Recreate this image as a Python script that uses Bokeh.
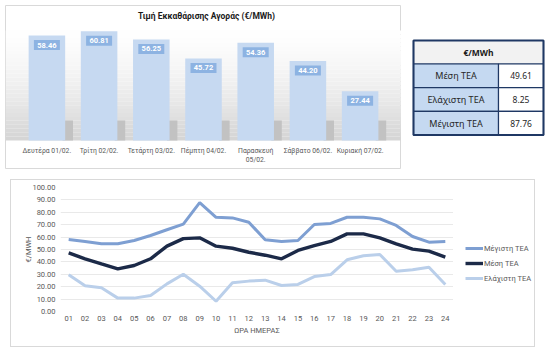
from bokeh.plotting import figure
from bokeh.layouts import column, row, Spacer
from bokeh.models import (ColumnDataSource, FactorRange, Range1d, BoxAnnotation, Legend,
                          LegendItem, PrintfTickFormatter, FixedTicker)
from bokeh.transform import dodge
from bokeh.core.properties import value
from bokeh.embed import file_html
from bokeh.resources import INLINE

# ---------------- data ----------------
days = ["Δευτέρα 01/02.", "Τρίτη 02/02.", "Τετάρτη 03/02.", "Πέμπτη 04/02.",
        "Παρασκευή 05/02.", "Σάββατο 06/02.", "Κυριακή 07/02."]
day_labels = ["Δευτέρα 01/02.", "Τρίτη 02/02.", "Τετάρτη 03/02.", "Πέμπτη 04/02.",
              "Παρασκευή\n05/02.", "Σάββατο 06/02.", "Κυριακή 07/02."]
daily_price = [58.46, 60.81, 56.25, 45.72, 54.36, 44.20, 27.44]
bar_title = "Τιμή Εκκαθάρισης Αγοράς (€/MWh)"

hours = ["01", "02", "03", "04", "05", "06", "07", "08", "09", "10", "11", "12",
         "13", "14", "15", "16", "17", "18", "19", "20", "21", "22", "23", "24"]
max_tea = [58.1, 56.5, 54.6, 54.6, 57.3, 61.3, 65.9, 70.5, 87.76, 76.0, 75.5, 72.0,
           57.8, 56.5, 57.3, 70.2, 71.0, 76.0, 76.0, 74.7, 69.4, 60.5, 55.9, 56.5]
mean_tea = [47.3, 42.5, 38.4, 34.4, 37.1, 42.5, 52.7, 58.8, 59.4, 52.7, 51.0, 47.8,
            45.4, 42.5, 49.2, 53.2, 56.5, 62.6, 62.6, 59.4, 54.6, 50.3, 48.7, 43.8]
min_tea = [29.6, 20.7, 19.1, 10.8, 10.8, 12.9, 22.3, 30.0, 20.4, 8.25, 23.1, 24.5,
           25.3, 21.0, 21.8, 28.2, 29.8, 41.7, 44.9, 46.0, 32.5, 33.6, 35.7, 21.8]
y_ticks = [0, 10, 20, 30, 40, 50, 60, 70, 80, 90, 100]
x_title = "ΩΡΑ ΗΜΕΡΑΣ"
y_title = "€/MWH"
series_names = ["Μέγιστη ΤΕΑ", "Μέση ΤΕΑ", "Ελάχιστη ΤΕΑ"]

table_header = "€/MWh"
stat_names = ["Μέση ΤΕΑ", "Ελάχιστη ΤΕΑ", "Μέγιστη ΤΕΑ"]
stat_values = [49.61, 8.25, 87.76]

FONT = "Roboto"
GRAY_TXT = "#595959"
C_MAX, C_MEAN, C_MIN = "#7E9FD2", "#1C2A48", "#BACFEA"

# ---------------- bar chart panel ----------------
BW, BH = 396, 164
SCALE = 1.796          # px per €/MWh
BASE_PX = 135          # baseline, px from top of panel
y_lo = -(BH - BASE_PX) / SCALE
y_hi = BASE_PX / SCALE

bp = figure(width=BW, height=BH, x_range=FactorRange(*days, range_padding=0.293,
            range_padding_units="absolute"), y_range=Range1d(y_lo, y_hi),
            x_axis_location=None, y_axis_location=None, output_backend="svg",
            toolbar_location=None, min_border=0)
bp.grid.visible = False
bp.outline_line_color = "#D9D9D9"
bp.background_fill_color = "white"
bp.border_fill_color = "white"

# background gradient (white at top -> grey near the floor)
n_bands = 28
top_px, bot_px = 25, BASE_PX
for i in range(n_bands):
    t0 = top_px + (bot_px - top_px) * i / n_bands
    t1 = top_px + (bot_px - top_px) * (i + 1) / n_bands
    frac = (i + 1) / n_bands
    g = int(255 - 42 * frac ** 1.5)
    bp.add_layout(BoxAnnotation(top=(BASE_PX - t0) / SCALE, bottom=(BASE_PX - t1) / SCALE,
                                fill_color=f"#{g:02x}{g:02x}{g:02x}", fill_alpha=1.0,
                                line_color=None, level="underlay"))

src_b = ColumnDataSource(dict(day=days, lab=day_labels, price=daily_price,
                              txt=[f"{v:.2f}" for v in daily_price],
                              laby=[v - 9.5 / SCALE for v in daily_price],
                              shadow_top=[min(v, 20 / SCALE) for v in daily_price]))

# floor shadows
bp.vbar(x=dodge("day", 0.40, range=bp.x_range), width=0.2, top="shadow_top", bottom=0,
        source=src_b, fill_color="#C2C2C2", line_color=None)
# bars
bp.vbar(x="day", top="price", bottom=0, width=0.7, source=src_b,
        fill_color="#C6D9F1", line_color=None)
# value labels
bp.rect(x="day", y="laby", width=26, height=10, width_units="screen", height_units="screen",
        source=src_b, fill_color="#8DB3E2", line_color=None)
bp.text(x="day", y="laby", text="txt", source=src_b, text_color="white",
        text_font=value(FONT), text_font_style="bold", text_font_size="7.5px",
        text_align="center", text_baseline="middle")
# category labels
bp.text(x="day", y=-6 / SCALE, text="lab", source=src_b, text_color=GRAY_TXT,
        text_font=value(FONT), text_font_size="6.8px", text_align="center",
        text_baseline="top", text_line_height=1.2)
# title
bp.text(x=[days[3]], y=[(BASE_PX - 10) / SCALE], text=[bar_title], x_offset=3,
        text_color="#1A1A1A", text_font=value(FONT), text_font_style="bold",
        text_font_size="8.5px", text_align="center", text_baseline="middle")

# ---------------- table panel ----------------
TW, TH = 145, 164
tp = figure(width=TW, height=TH, x_range=Range1d(0, TW), y_range=Range1d(TH, 0),
            x_axis_location=None, y_axis_location=None, output_backend="svg",
            toolbar_location=None, min_border=0)
tp.grid.visible = False
tp.outline_line_color = None

T_L, T_M, T_R = 8, 93, 138
T_TOP, HEAD_H, ROW_H = 35, 23.5, 23.7
NAVY = "#1F3864"
n_rows = len(stat_names)
row_tops = [T_TOP + HEAD_H + i * ROW_H for i in range(n_rows)]
row_bots = [t + ROW_H for t in row_tops]
row_mid = [t + ROW_H / 2 for t in row_tops]

tp.quad(left=[T_L], right=[T_R], top=[T_TOP], bottom=[T_TOP + HEAD_H],
        fill_color="#F2F2F2", line_color=NAVY, line_width=1.2)
tsrc = ColumnDataSource(dict(top=row_tops, bot=row_bots, mid=row_mid, name=stat_names,
                             val=[f"{v:.2f}" for v in stat_values]))
tp.quad(left=T_L, right=T_M, top="top", bottom="bot", source=tsrc,
        fill_color="#C5D9F1", line_color=NAVY, line_width=1.2)
tp.quad(left=T_M, right=T_R, top="top", bottom="bot", source=tsrc,
        fill_color="white", line_color=NAVY, line_width=1.2)
tp.quad(left=[T_L], right=[T_R], top=[T_TOP], bottom=[row_bots[-1]],
        fill_color=None, line_color=NAVY, line_width=2)
tp.text(x=[(T_L + T_R) / 2], y=[T_TOP + HEAD_H / 2], text=[table_header],
        text_font=value("Noto Sans"), text_font_style="bold", text_font_size="8.5px",
        text_color="#1A1A1A", text_align="center", text_baseline="middle")
tp.text(x=(T_L + T_M) / 2, y="mid", text="name", source=tsrc,
        text_font=value("Noto Sans"), text_font_size="9px", text_color="#262626",
        text_align="center", text_baseline="middle")
tp.text(x=(T_M + T_R) / 2, y="mid", text="val", source=tsrc,
        text_font=value("Noto Sans"), text_font_size="8.5px", text_color="#262626",
        text_align="center", text_baseline="middle")

# ---------------- line chart panel ----------------
LH = 168
lp = figure(width=443, height=LH, x_range=FactorRange(*hours), y_range=Range1d(0, 100),
            output_backend="svg", toolbar_location=None,
            min_border_left=50, min_border_right=0, min_border_top=8, min_border_bottom=36)
lp.outline_line_color = None
lp.border_fill_color = None
lp.background_fill_color = None
lp.xgrid.visible = False
lp.ygrid.grid_line_color = "#E9E9E9"
lp.ygrid.grid_line_width = 1

lp.yaxis.ticker = FixedTicker(ticks=y_ticks)
lp.yaxis.formatter = PrintfTickFormatter(format="%.2f")
for ax in (lp.xaxis, lp.yaxis):
    ax.axis_line_color = None
    ax.major_tick_line_color = None
    ax.minor_tick_line_color = None
    ax.major_tick_out = 0
    ax.major_tick_in = 0
    ax.major_label_text_font = FONT
    ax.major_label_text_font_size = "7.5px"
    ax.major_label_text_color = GRAY_TXT
    ax.axis_label_text_font = FONT
    ax.axis_label_text_font_size = "7.5px"
    ax.axis_label_text_font_style = "normal"
    ax.axis_label_text_color = GRAY_TXT
lp.yaxis.major_label_standoff = 5
lp.yaxis.axis_label = y_title
lp.yaxis.axis_label_standoff = -4
lp.xaxis.major_label_standoff = 4
lp.xaxis.axis_label = x_title
lp.xaxis.axis_label_standoff = 2

src_l = ColumnDataSource(dict(h=hours, mx=max_tea, mn=min_tea, me=mean_tea))
lp.line("h", "mx", source=src_l, line_color=C_MAX, line_width=3)
lp.line("h", "mn", source=src_l, line_color=C_MIN, line_width=3)
lp.line("h", "me", source=src_l, line_color=C_MEAN, line_width=3.4)

# legend panel (legend keys only; placeholder renderers draw nothing)
lg = figure(width=82, height=LH, x_range=Range1d(0, 1), y_range=Range1d(0, 1),
            x_axis_location=None, y_axis_location=None, output_backend="svg",
            toolbar_location=None, min_border=0)
lg.grid.visible = False
lg.outline_line_color = None
lg.border_fill_color = None
lg.background_fill_color = None
nan = float("nan")
placeholder = ColumnDataSource(dict(x=[nan], y=[nan]))
g_max = lg.line("x", "y", source=placeholder, line_color=C_MAX, line_width=3)
g_mean = lg.line("x", "y", source=placeholder, line_color=C_MEAN, line_width=3.4)
g_min = lg.line("x", "y", source=placeholder, line_color=C_MIN, line_width=3)
legend = Legend(items=[LegendItem(label=series_names[0], renderers=[g_max]),
                       LegendItem(label=series_names[1], renderers=[g_mean]),
                       LegendItem(label=series_names[2], renderers=[g_min])],
                location=(12, 26), margin=0, padding=0, spacing=1,
                glyph_width=18, glyph_height=14, label_height=14, label_standoff=1,
                label_text_font=FONT, label_text_font_size="7.5px",
                label_text_color=GRAY_TXT, border_line_color=None,
                background_fill_alpha=0)
lg.add_layout(legend)

bottom_panel = row(lp, lg, styles={"outline": "1px solid #D9D9D9", "outline-offset": "-1px"})

layout = column(
    Spacer(width=550, height=5),
    row(Spacer(width=5, height=BH), bp, Spacer(width=4, height=BH), tp),
    Spacer(width=550, height=10),
    row(Spacer(width=10, height=LH), bottom_panel),
)

open("out.html", "w").write(file_html(layout, INLINE))
